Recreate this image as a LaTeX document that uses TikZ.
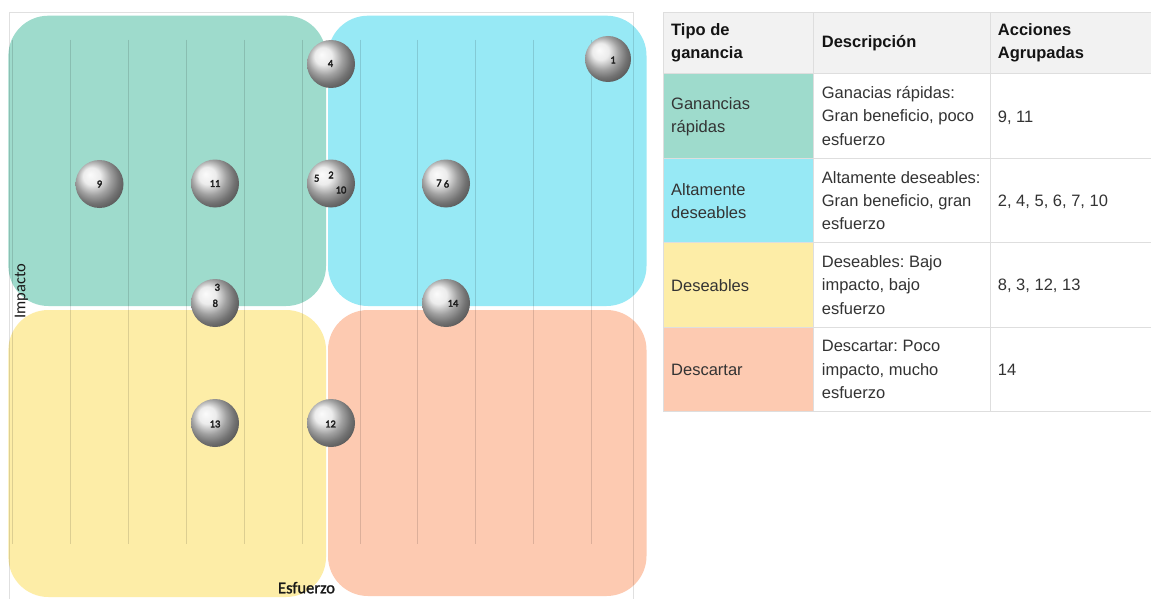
\documentclass[tikz,border=0pt]{standalone}
\usepackage{fontspec}
\setmainfont{Liberation Sans}
\newfontfamily\chartfont{Carlito}[AutoFakeBold=3]
\newfontfamily\axisboldfont{Carlito}[AutoFakeBold=1.6]
\frenchspacing
\definecolor{qgreen}{HTML}{9EDBCC}
\definecolor{qcyan}{HTML}{97E9F5}
\definecolor{qyellow}{HTML}{FDEDA7}
\definecolor{qsalmon}{HTML}{FDCAB1}
\definecolor{rulegray}{HTML}{DEDEDE}
\definecolor{headfill}{HTML}{F2F2F2}
\definecolor{bodytext}{HTML}{333333}
\begin{document}
\begin{tikzpicture}[x=1pt,y=-1pt,
  quad/.style={rounded corners=40pt},
  gridline/.style={draw=black, opacity=0.13, line width=0.9pt},
  framelineA/.style={draw=black, opacity=0.12, line width=0.9pt},
  ball/.style={circle, minimum size=48pt, inner sep=0pt, shading=ball, ball color=black!10},
  num/.style={font=\chartfont\bfseries\fontsize{10.5}{10.5}\selectfont, text=black!88, inner sep=0pt},
  axislabel/.style={font=\chartfont\fontsize{16.5}{16.5}\selectfont, text=black!90, inner sep=0pt},
  cell/.style={anchor=west, align=left, inner sep=0pt, text=bodytext,
    font=\fontsize{16.5}{23.3}\selectfont},
  headcell/.style={anchor=west, align=left, inner sep=0pt, text=black!92,
    font=\bfseries\fontsize{16.5}{22.6}\selectfont},
  rule/.style={draw=rulegray, line width=1pt}]
\useasboundingbox (0,0) rectangle (1151,599);
\fill[white] (0,0) rectangle (1151,599);

% ---------- priority matrix ----------
\fill[qgreen,quad]  (8.4,15.7) rectangle (326,306);
\fill[qcyan,quad]   (328,15.7) rectangle (646.5,306);
\fill[qyellow,quad] (8.4,310) rectangle (326,597);
\fill[qsalmon,quad] (328,310) rectangle (646.5,596);

% outer frame
\draw[framelineA] (9.3,599) -- (9.3,12.7) -- (633,12.7) -- (633,599);

% vertical grid lines
\foreach \k in {0,...,10}
  \draw[gridline] ({12.6+57.9*\k},40) -- ({12.6+57.9*\k},544);

% axis titles
\node[axislabel, rotate=90] (impacto) at (21.5,291) {Impacto};
\node[axislabel, anchor=base, font=\axisboldfont\bfseries\fontsize{16.5}{16.5}\selectfont]
  (esfuerzo) at (306.5,593.3) {Esfuerzo};

% actions
\node[ball, minimum size=46pt] (b1) at (608,59) {};
\node[num] (n1) at (613,60) {1};
\node[ball] (b4) at (331,64) {};
\node[num] (n4) at (330.5,63.5) {4};
\node[ball] (b9) at (99.5,184) {};
\node[num] (n9) at (99.5,184) {9};
\node[ball] (b11) at (215,183.5) {};
\node[num] (n11) at (215,183.5) {11};
\node[ball] (b2) at (331,183.5) {};
\node[num] (n5) at (316.7,178.3) {5};
\node[num] (n2) at (331,175) {2};
\node[num] (n10) at (341,190) {10};
\node[ball] (b7) at (446,183.5) {};
\node[num] (n7) at (439,183) {7};
\node[num] (n6) at (446.5,184) {6};
\node[ball] (b3) at (215,303) {};
\node[num] (n3) at (217.3,287.3) {3};
\node[num] (n8) at (215.3,303.3) {8};
\node[ball] (b14) at (446,303) {};
\node[num] (n14) at (453,303.3) {14};
\node[ball] (b13) at (215,423) {};
\node[num] (n13) at (215,424) {13};
\node[ball] (b12) at (331,423) {};
\node[num] (n12) at (330.5,424) {12};

% ---------- legend table ----------
\fill[headfill] (663,12.7) rectangle (1151,73.3);
\fill[qgreen]   (663,73.3) rectangle (813.3,158.3);
\fill[qcyan]    (663,158.3) rectangle (813.3,242.7);
\fill[qyellow]  (663,242.7) rectangle (813.3,327.3);
\fill[qsalmon]  (663,327.3) rectangle (813.3,411.7);
\foreach \y in {12.7,73.3,158.3,242.7,327.3,411.7}
  \draw[rule] (663,\y) -- (1151,\y);
\foreach \x in {663,813.3,990}
  \draw[rule] (\x,12.7) -- (\x,411.7);

\node[headcell] (h1) at (671,43) {Tipo de\\ganancia};
\node[headcell] (h2) at (821.7,42.7) {Descripción};
\node[headcell] (h3) at (997.7,43) {Acciones\\Agrupadas};

\node[cell] (r1a) at (671,116.5) {Ganancias\\rápidas};
\node[cell] (r1b) at (821.7,115.8) {Ganacias rápidas:\\Gran beneficio, poco\\esfuerzo};
\node[cell] (r1c) at (997.7,117.3) {9, 11};

\node[cell] (r2a) at (671,201.3) {Altamente\\deseables};
\node[cell] (r2b) at (821.7,200.5) {Altamente deseables:\\Gran beneficio, gran\\esfuerzo};
\node[cell] (r2c) at (997.7,201.7) {2, 4, 5, 6, 7, 10};

\node[cell] (r3a) at (671,286) {Deseables};
\node[cell] (r3b) at (821.7,285) {Deseables: Bajo\\impacto, bajo\\esfuerzo};
\node[cell] (r3c) at (997.7,286) {8, 3, 12, 13};

\node[cell] (r4a) at (671,370) {Descartar};
\node[cell] (r4b) at (821.7,369.5) {Descartar: Poco\\impacto, mucho\\esfuerzo};
\node[cell] (r4c) at (997.7,370) {14};
\end{tikzpicture}
\end{document}
